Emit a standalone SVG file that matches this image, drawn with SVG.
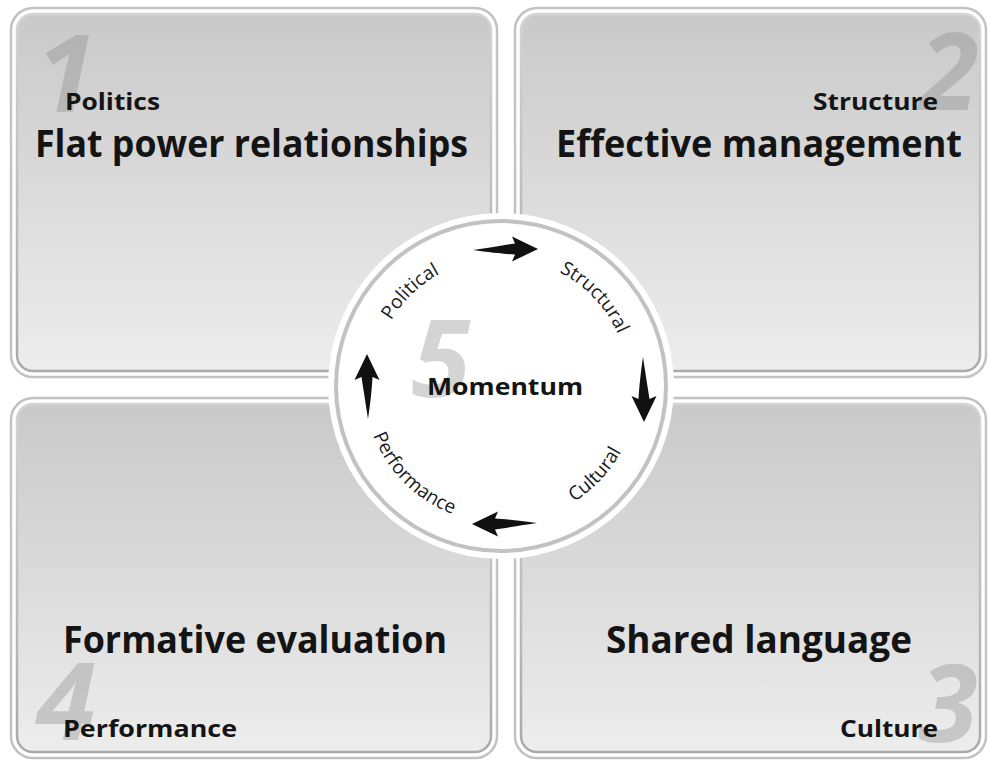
<svg xmlns="http://www.w3.org/2000/svg" xmlns:xlink="http://www.w3.org/1999/xlink" width="990" height="766" viewBox="0 0 990 766">
  <style>
    .outer { fill: #ffffff; stroke: #c2c2c2; stroke-width: 2.5; }
    .inner { fill: url(#panelGrad); stroke: url(#edgeGrad); stroke-width: 2.5; }
    .big { font-family: "Open Sans", "Noto Sans", "DejaVu Sans", sans-serif; font-weight: 700; font-size: 37px; fill: #141414; }
    .small { font-family: "Open Sans", "Noto Sans", "DejaVu Sans", sans-serif; font-weight: 700; font-size: 24px; fill: #141414; }
    .num { font-family: "Open Sans", "Noto Sans", "DejaVu Sans", sans-serif; font-weight: 700; font-style: italic; font-size: 108px; fill: #888888; fill-opacity: 0.36; }
    .ring { font-family: "Open Sans", "Noto Sans", "DejaVu Sans", sans-serif; font-weight: 400; font-size: 19px; fill: #1a1a1a; }
    .arrow { fill: #111111; }
  </style>
  <defs>
    <linearGradient id="panelGrad" x1="0" y1="0" x2="0" y2="1">
      <stop offset="0" stop-color="#c9c9c9"/>
      <stop offset="1" stop-color="#ededed"/>
    </linearGradient>
    <linearGradient id="edgeGrad" x1="0" y1="0" x2="0" y2="1">
      <stop offset="0" stop-color="#d4d4d4"/>
      <stop offset="1" stop-color="#a9a9a9"/>
    </linearGradient>
    <path id="arrowShape" d="M -32,1 C -15,-1.5 0,-4 10,-5.5 L 7,-12.5 L 33,0 L 7,12.5 L 10,5.5 C 0,5 -15,3.5 -32,1 Z"/>
    <path id="topArc" d="M 373,386 A 128 128 0 0 1 629,386"/>
    <path id="bottomArc" d="M 364,386 A 137 137 0 0 0 638,386"/>
  </defs>

  <g id="panel1">
    <rect class="outer" x="11" y="8" width="486" height="369" rx="22"/>
    <rect class="inner" x="17" y="14" width="474" height="357" rx="16"/>
    <text class="num" x="66" y="112" text-anchor="middle">1</text>
    <text class="small" x="65" y="110" textLength="95" lengthAdjust="spacingAndGlyphs">Politics</text>
    <text class="big" x="35" y="157" textLength="433" lengthAdjust="spacingAndGlyphs">Flat power relationships</text>
  </g>

  <g id="panel2">
    <rect class="outer" x="515" y="8" width="471" height="369" rx="22"/>
    <rect class="inner" x="521" y="14" width="459" height="357" rx="16"/>
    <text class="num" x="949" y="110" text-anchor="middle">2</text>
    <text class="small" x="813" y="110" textLength="125" lengthAdjust="spacingAndGlyphs">Structure</text>
    <text class="big" x="556" y="157" textLength="406" lengthAdjust="spacingAndGlyphs">Effective management</text>
  </g>

  <g id="panel4">
    <rect class="outer" x="11" y="398" width="486" height="360" rx="22"/>
    <rect class="inner" x="17" y="404" width="474" height="348" rx="16"/>
    <text class="num" x="66" y="740" text-anchor="middle">4</text>
    <text class="big" x="63" y="653" textLength="384" lengthAdjust="spacingAndGlyphs">Formative evaluation</text>
    <text class="small" x="63" y="737" textLength="174" lengthAdjust="spacingAndGlyphs">Performance</text>
  </g>

  <g id="panel3">
    <rect class="outer" x="515" y="398" width="471" height="360" rx="22"/>
    <rect class="inner" x="521" y="404" width="459" height="348" rx="16"/>
    <text class="num" x="948" y="742" text-anchor="middle">3</text>
    <text class="big" x="606" y="653" textLength="306" lengthAdjust="spacingAndGlyphs">Shared language</text>
    <text class="small" x="840" y="737" textLength="98" lengthAdjust="spacingAndGlyphs">Culture</text>
  </g>

  <g id="center">
    <circle cx="501" cy="386" r="173" fill="#ffffff"/>
    <circle cx="501" cy="386" r="165" fill="#ffffff" stroke="#c2c2c2" stroke-width="4"/>
    <text class="num" x="441" y="397" text-anchor="middle" fill-opacity="0.3">5</text>
    <text class="small" x="427" y="395" textLength="156" lengthAdjust="spacingAndGlyphs">Momentum</text>
    <text class="ring"><textPath xlink:href="#topArc" startOffset="103" text-anchor="middle">Political</textPath></text>
    <text class="ring"><textPath xlink:href="#topArc" startOffset="305" text-anchor="middle">Structural</textPath></text>
    <text class="ring"><textPath xlink:href="#bottomArc" startOffset="108" text-anchor="middle">Performance</textPath></text>
    <text class="ring"><textPath xlink:href="#bottomArc" startOffset="327" text-anchor="middle">Cultural</textPath></text>
  </g>

  <g id="connectors">
    <use class="arrow" xlink:href="#arrowShape" transform="translate(505,249)"/>
    <use class="arrow" xlink:href="#arrowShape" transform="translate(644,389) rotate(90)"/>
    <use class="arrow" xlink:href="#arrowShape" transform="translate(505,524) rotate(180)"/>
    <use class="arrow" xlink:href="#arrowShape" transform="translate(367,387) rotate(-90)"/>
  </g>
</svg>
